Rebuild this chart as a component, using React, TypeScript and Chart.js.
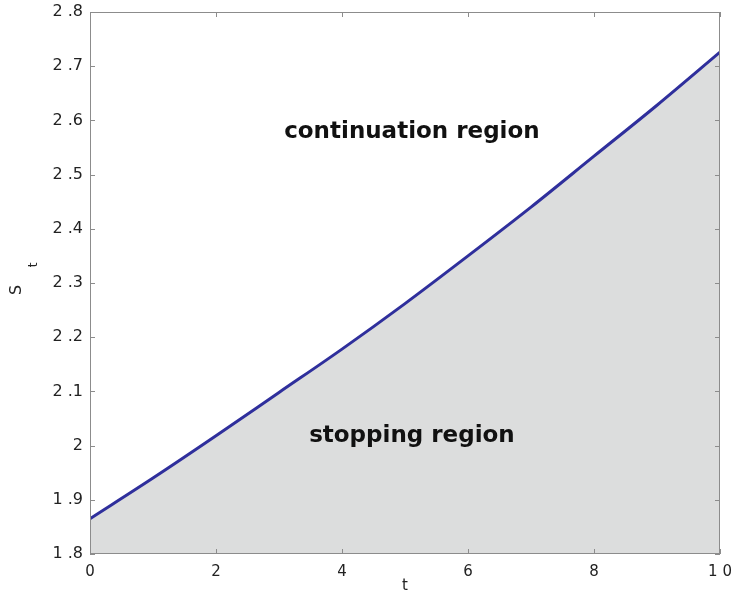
import React, { useEffect, useRef } from "react";
import { Chart, registerables } from "chart.js";

Chart.register(...registerables);

const tValues = [0, 1, 2, 3, 4, 5, 6, 7, 8, 9, 10];
const boundary = [1.865, 1.94, 2.018, 2.098, 2.178, 2.262, 2.35, 2.44, 2.534, 2.628, 2.726];
const continuationLabel = "continuation region";
const stoppingLabel = "stopping region";
const xTitle = "t";
const yTitleMain = "S";
const yTitleSub = "t";

const W = 733;
const H = 599;

const fmtY = (v: number) => {
  const s = Number(v).toFixed(1);
  if (s.endsWith(".0")) return s.slice(0, -2);
  return s.replace(".", " .");
};
const fmtX = (v: number) => {
  const s = String(Math.round(Number(v)));
  return s.split("").join(" ");
};

const framePlugin = {
  id: "frameAndText",
  afterDatasetsDraw(chart: any) {
    const { ctx, chartArea, scales } = chart;
    const { left, right, top, bottom } = chartArea;
    ctx.save();
    ctx.strokeStyle = "#8c8c8c";
    ctx.lineWidth = 1;
    ctx.strokeRect(left + 0.5, top + 0.5, right - left - 1, bottom - top - 1);
    const tl = 5;
    ctx.beginPath();
    scales.y.ticks.forEach((t: any) => {
      const y = Math.round(scales.y.getPixelForValue(t.value)) + 0.5;
      ctx.moveTo(left, y);
      ctx.lineTo(left + tl, y);
      ctx.moveTo(right, y);
      ctx.lineTo(right - tl, y);
    });
    scales.x.ticks.forEach((t: any) => {
      const x = Math.round(scales.x.getPixelForValue(t.value)) + 0.5;
      ctx.moveTo(x, bottom);
      ctx.lineTo(x, bottom - tl);
      ctx.moveTo(x, top);
      ctx.lineTo(x, top + tl);
    });
    ctx.stroke();

    ctx.fillStyle = "#111";
    ctx.font = "bold 23px 'DejaVu Sans'";
    ctx.textAlign = "center";
    ctx.textBaseline = "middle";
    ctx.fillText(continuationLabel, scales.x.getPixelForValue(5.11), scales.y.getPixelForValue(2.578));
    ctx.fillText(stoppingLabel, scales.x.getPixelForValue(5.11), scales.y.getPixelForValue(2.017));

    ctx.fillStyle = "#222";
    ctx.font = "15px 'DejaVu Sans'";
    ctx.fillText(xTitle, (left + right) / 2, 586);

    ctx.save();
    ctx.translate(17, 290);
    ctx.rotate(-Math.PI / 2);
    ctx.font = "16px 'DejaVu Sans'";
    ctx.textAlign = "center";
    ctx.fillText(yTitleMain, 0, 0);
    ctx.font = "12px 'DejaVu Sans'";
    ctx.fillText(yTitleSub, 25, 17);
    ctx.restore();
    ctx.restore();
  },
};

export default function App() {
  const ref = useRef<HTMLCanvasElement | null>(null);
  useEffect(() => {
    if (!ref.current) return;
    const chart = new Chart(ref.current, {
      type: "line",
      data: {
        datasets: [
          {
            data: tValues.map((t, i) => ({ x: t, y: boundary[i] })),
            borderColor: "#2f2f9c",
            borderWidth: 3,
            backgroundColor: "#dcdddd",
            fill: "start",
            pointRadius: 0,
            cubicInterpolationMode: "monotone",
          },
        ],
      },
      options: {
        animation: false,
        responsive: false,
        maintainAspectRatio: false,
        layout: { padding: { left: 0, top: 12, right: 13, bottom: 0 } },
        plugins: { legend: { display: false }, tooltip: { enabled: false } },
        scales: {
          x: {
            type: "linear",
            min: 0,
            max: 10,
            afterFit: (s: any) => {
              s.height = 45;
              s.paddingLeft = 0;
              s.paddingRight = 0;
            },
            ticks: {
              stepSize: 2,
              padding: 9,
              color: "#222",
              font: { family: "'DejaVu Sans'", size: 15 },
              callback: (v: any) => fmtX(v),
              maxRotation: 0,
            },
            grid: { display: false, drawTicks: false },
            border: { display: false },
          },
          y: {
            type: "linear",
            min: 1.8,
            max: 2.8,
            afterFit: (s: any) => {
              s.width = 90;
              s.paddingTop = 0;
              s.paddingBottom = 0;
            },
            ticks: {
              stepSize: 0.1,
              padding: 7,
              color: "#222",
              font: { family: "'DejaVu Sans'", size: 16 },
              callback: (v: any) => fmtY(v),
            },
            grid: { display: false, drawTicks: false },
            border: { display: false },
          },
        },
      },
      plugins: [framePlugin],
    } as any);
    return () => chart.destroy();
  }, []);
  return (
    <div style={{ position: "absolute", left: 0, top: 0, width: W, height: H, background: "#fff" }}>
      <canvas ref={ref} width={W} height={H} style={{ width: W, height: H, display: "block" }} />
    </div>
  );
}
